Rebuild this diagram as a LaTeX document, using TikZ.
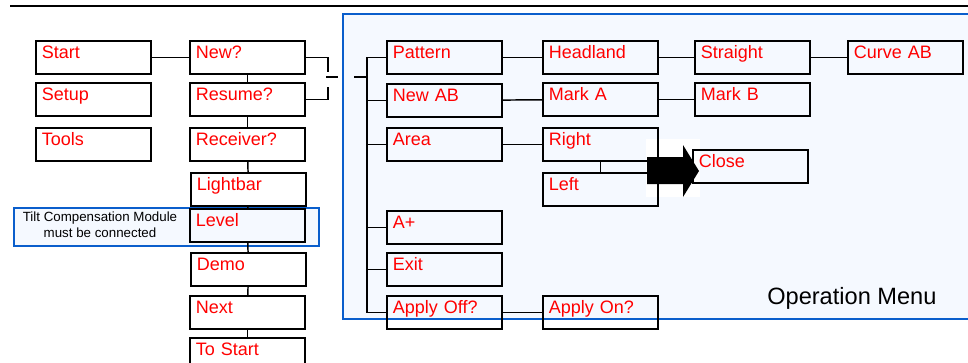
\documentclass[tikz,border=0pt]{standalone}
\usepackage{fontspec}
\setmainfont{Liberation Sans}
\usetikzlibrary{positioning,backgrounds}
\definecolor{menu}{HTML}{FF0000}
\definecolor{frm}{HTML}{0A5ECC}
\definecolor{frmfill}{HTML}{F5F9FF}
\tikzset{
  item/.style={draw=black, line width=1.4pt, anchor=north west, text=menu,
    font=\fontsize{13.5}{16}\selectfont, text width=77.25pt, align=left,
    inner xsep=4.5pt, inner ysep=0pt, text height=13.5pt, text depth=11.25pt},
  link/.style={draw=black, line width=1.1pt},
  panel/.style={draw=frm, line width=1.6pt, fill=frmfill},
  note/.style={font=\fontsize{10}{12}\selectfont, align=center, inner sep=0pt},
}

\begin{document}
\begin{tikzpicture}[x=0.75pt, y=-0.75pt]
\useasboundingbox (0,0) rectangle (968,362);
\clip (0,0) rectangle (968,362);

% ───────────── page rule, frames ─────────────
\draw[line width=2pt] (10,6) -- (975,6);
\draw[panel] (343,14) rectangle (990,319);
\node[panel, line width=1.4pt, anchor=north west, minimum width=228.75pt, minimum height=28.5pt] (tiltbox) at (13,207) {};
\node[note] (tilttxt) at (100,225) {Tilt Compensation Module\\must be connected};
% white patch behind the block arrow
\fill[white] (646,139) rectangle (700,197);

% ───────────── main menu ─────────────
\node[item] (start) at (35,40) {Start};
\node[item] (setup) at (35,82) {Setup};
\node[item] (tools) at (35,127) {Tools};

\node[item] (new) at (189,40) {New?};
\node[item] (resume) at (189,82) {Resume?};
\node[item] (receiver) at (189,127) {Receiver?};
\node[item] (lightbar) at (190,172) {Lightbar};
\node[item] (level) at (189,208) {Level};
\node[item] (demo) at (190,252) {Demo};
\node[item] (next) at (189,295) {Next};
\node[item] (tostart) at (189,337) {To Start};

\draw[link] (start) -- (new);
\draw[link] (new) -- (resume);
\draw[link] (resume) -- (receiver);
\draw[link] (receiver) -- (lightbar);
\draw[link] (lightbar) -- (level);
\draw[link] (level) -- (demo);
\draw[link] (demo) -- (next);
\draw[link] (next) -- (tostart);

% split bracket from New? / Resume?
\coordinate (splitA) at (328,72);
\coordinate (splitB) at (328,87);
\coordinate (gapA) at (326,77);
\coordinate (gapB) at (338,77);
\coordinate (gapC) at (354,77);
\draw[link] (new.east) -| (splitA);
\draw[link] (resume.east) -| (splitB);
\draw[link] (gapA) -- (gapB);

% ───────────── operation menu ─────────────
\node[item] (pattern) at (386,40) {Pattern};
\node[item] (newab) at (386,83) {New AB};
\node[item] (area) at (386,127) {Area};
\node[item] (aplus) at (386,210) {A+};
\node[item] (exit) at (386,252) {Exit};
\node[item] (applyoff) at (386,295) {Apply Off?};

\node[item] (headland) at (542,40) {Headland};
\node[item] (marka) at (542,82) {Mark A};
\node[item] (right) at (542,127) {Right};
\node[item] (left) at (542,172) {Left};
\node[item] (applyon) at (542,295) {Apply On?};

\node[item] (straight) at (694,40) {Straight};
\node[item] (markb) at (694,82) {Mark B};
\node[item] (close) at (692,149) {Close};
\node[item] (curveab) at (847,40) {Curve AB};

\draw[link] (pattern.west) -- ++(-19,0) coordinate (trunk) |- (applyoff.west);
\foreach \b in {newab,area,aplus,exit}
  \draw[link] (\b.west) -- (\b.west -| trunk);
\draw[link] (gapC) -- (gapC -| trunk);

\draw[link] (pattern) -- (headland);
\draw[link] (headland) -- (straight);
\draw[link] (straight) -- (curveab);
\draw[link] (newab) -- (marka);
\draw[link] (marka) -- (markb);
\draw[link] (area) -- (right);
\draw[link] (right) -- (left);
\draw[link] (applyoff) -- (applyon);

% block arrow to Close
\fill[black] (647,157) -- (683,157) -- (683,145) -- (699,171) -- (683,197) -- (683,184) -- (647,184) -- cycle;

\node[anchor=base west, font=\fontsize{17.7}{21}\selectfont, inner sep=0pt] (opmenu) at (767,304) {Operation Menu};

\end{tikzpicture}
\end{document}
